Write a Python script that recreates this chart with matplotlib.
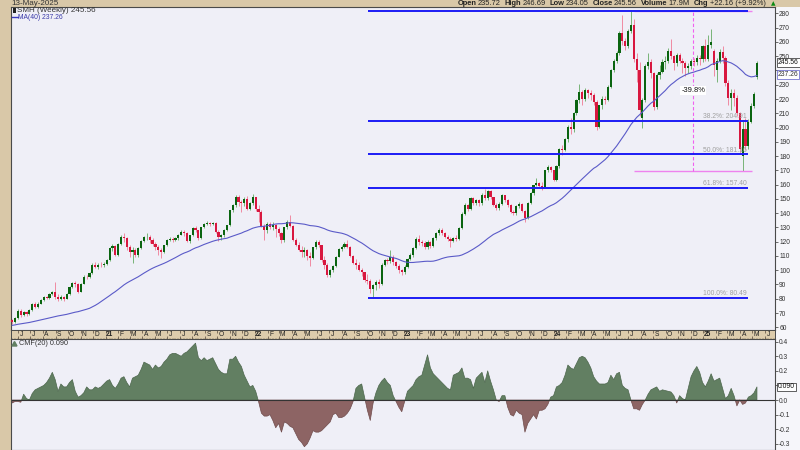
import matplotlib
matplotlib.use("Agg")
import matplotlib.pyplot as plt
import numpy as np
import pandas as pd
from matplotlib.patches import Rectangle
from matplotlib.transforms import blended_transform_factory

plt.rcParams['font.family'] = ['Liberation Sans', 'DejaVu Sans']

# weekly SMH candles, first week starting 2020-05-18
first_week = "2020-05-18"
opens = [
    65.0, 63.5, 66.5, 71.5, 68.5, 70.5, 69.0, 72.0, 76.0, 74.5,
    76.5, 79.0, 81.0, 80.5, 83.0, 84.5, 81.0, 80.0, 81.0, 80.0,
    83.0, 88.5, 91.0, 90.0, 85.0, 90.5, 95.5, 95.0, 98.0, 104.0,
    102.5, 104.0, 103.5, 104.5, 107.0, 115.5, 117.0, 110.5, 118.5, 123.5,
    122.5, 116.5, 113.0, 114.0, 110.5, 115.5, 120.5, 123.0, 123.5, 121.5,
    118.5, 116.5, 114.0, 113.0, 117.5, 121.5, 122.0, 121.5, 122.5, 125.0,
    127.0, 126.0, 120.5, 124.5, 129.5, 128.0, 122.5, 130.0, 132.5, 133.0,
    132.5, 133.0, 127.0, 123.0, 124.5, 128.5, 131.5, 142.0, 145.5, 151.5,
    148.0, 147.0, 150.0, 143.0, 147.0, 151.0, 143.0, 141.0, 131.0, 128.5,
    132.5, 130.5, 131.5, 129.0, 126.0, 121.0, 130.0, 134.0, 131.0, 121.5,
    118.0, 114.5, 113.0, 114.0, 110.0, 108.5, 116.0, 120.0, 117.5, 107.0,
    104.0, 96.5, 100.0, 103.0, 109.5, 115.0, 116.5, 118.5, 116.5, 110.0,
    105.0, 104.0, 100.5, 98.5, 93.0, 92.5, 87.0, 89.5, 91.5, 90.0,
    104.0, 107.0, 106.5, 109.0, 105.5, 103.0, 100.0, 99.0, 102.5, 108.0,
    110.5, 115.5, 122.0, 119.5, 119.0, 116.0, 120.0, 117.0, 122.5, 126.0,
    128.5, 126.0, 123.5, 122.0, 120.5, 122.5, 122.0, 129.5, 139.5, 145.5,
    143.0, 150.5, 147.0, 149.0, 147.0, 153.0, 150.5, 155.5, 151.0, 146.0,
    143.5, 146.5, 152.5, 149.0, 146.0, 141.0, 140.0, 145.0, 146.5, 141.5,
    136.5, 147.0, 154.0, 159.5, 161.0, 159.0, 158.5, 170.0, 172.5, 170.0,
    163.5, 173.0, 185.0, 184.5, 192.0, 200.5, 199.0, 210.0, 219.0, 225.0,
    220.0, 226.0, 224.0, 222.5, 218.0, 200.5, 215.5, 220.0, 219.5, 228.5,
    240.0, 246.5, 252.0, 266.0, 261.0, 257.0, 268.0, 272.0, 248.0, 240.0,
    207.0, 219.5, 243.0, 246.0, 238.0, 214.5, 237.0, 239.0, 246.0, 246.5,
    254.0, 250.0, 245.0, 251.0, 247.0, 245.0, 242.0, 243.0, 246.5, 246.0,
    249.0, 248.0, 257.0, 248.0, 258.0, 254.0, 240.0, 247.0, 253.0, 249.0,
    231.0, 221.0, 224.0, 221.0, 210.0, 180.0, 199.0, 187.0, 204.0, 215.0,
    235.72]
highs = [
    66.0, 67.5, 72.5, 72.5, 71.5, 71.5, 72.8, 77.0, 77.5, 77.5,
    79.5, 81.8, 82.0, 83.8, 85.5, 92.0, 83.0, 82.5, 82.0, 83.8,
    89.0, 92.0, 92.5, 91.0, 91.0, 96.5, 97.0, 98.8, 105.0, 105.5,
    105.0, 105.5, 105.5, 108.0, 116.5, 118.5, 118.0, 119.0, 124.5, 126.0,
    123.5, 118.0, 116.0, 115.5, 116.5, 121.0, 124.0, 126.0, 125.0, 122.5,
    120.0, 118.0, 115.5, 118.0, 122.0, 123.5, 123.0, 123.5, 125.5, 128.0,
    128.5, 126.5, 125.0, 130.0, 131.0, 128.5, 130.5, 133.0, 134.5, 134.0,
    134.0, 133.5, 128.0, 125.5, 129.0, 132.0, 142.5, 146.5, 153.0, 153.0,
    149.0, 151.5, 152.0, 148.0, 153.5, 151.5, 146.0, 142.0, 132.5, 133.5,
    133.5, 134.0, 132.5, 130.0, 127.0, 130.5, 135.0, 138.5, 132.0, 122.5,
    119.5, 117.0, 116.5, 115.0, 113.0, 116.5, 121.0, 121.0, 118.0, 110.0,
    105.0, 101.0, 104.0, 110.0, 115.5, 117.5, 119.5, 121.0, 117.0, 111.0,
    108.0, 105.5, 101.5, 99.0, 97.5, 93.5, 90.5, 93.0, 93.5, 105.0,
    108.0, 108.5, 114.0, 110.5, 106.5, 104.5, 101.0, 103.5, 108.5, 112.0,
    116.0, 123.0, 124.5, 121.5, 120.5, 121.0, 120.5, 123.0, 126.5, 129.5,
    129.5, 127.0, 124.5, 123.0, 123.5, 125.0, 130.0, 140.5, 147.0, 146.5,
    151.5, 151.0, 150.0, 150.0, 154.0, 157.0, 156.5, 156.5, 151.5, 147.0,
    147.5, 153.5, 153.0, 150.0, 146.5, 142.5, 145.5, 148.0, 147.0, 142.0,
    147.5, 154.5, 160.0, 164.5, 162.0, 161.5, 170.5, 173.5, 173.0, 170.5,
    174.0, 186.0, 188.0, 193.0, 201.5, 207.0, 211.0, 220.0, 230.5, 226.0,
    227.5, 227.0, 226.0, 224.0, 219.0, 216.0, 222.0, 222.0, 229.5, 241.0,
    248.0, 254.0, 268.0, 279.0, 263.0, 269.0, 281.8, 276.0, 252.0, 246.0,
    221.0, 244.5, 252.0, 248.0, 239.0, 238.0, 244.0, 248.0, 250.0, 256.0,
    262.0, 251.0, 252.0, 252.5, 249.0, 247.0, 245.0, 248.0, 249.0, 251.0,
    251.0, 258.0, 262.0, 265.0, 269.0, 255.0, 249.0, 255.0, 257.0, 250.0,
    233.0, 227.0, 227.0, 223.0, 211.0, 205.0, 207.0, 206.0, 217.0, 225.0,
    246.69]
lows = [
    62.5, 63.0, 66.0, 67.5, 68.0, 68.0, 68.5, 71.5, 73.5, 73.5,
    76.0, 78.5, 79.5, 80.0, 82.5, 80.0, 78.5, 79.0, 78.5, 79.5,
    82.5, 87.5, 88.5, 84.0, 84.5, 90.0, 93.5, 94.5, 97.5, 101.5,
    101.0, 102.0, 102.5, 103.5, 106.5, 113.5, 110.0, 110.0, 118.0, 120.0,
    114.5, 109.0, 105.0, 109.0, 109.5, 115.0, 120.0, 121.5, 119.0, 117.0,
    114.0, 111.0, 108.5, 112.0, 117.0, 120.5, 120.0, 120.5, 121.5, 124.5,
    124.0, 119.5, 119.0, 124.0, 126.5, 121.0, 122.0, 129.5, 131.5, 131.0,
    131.5, 126.0, 120.5, 121.5, 123.5, 127.5, 131.0, 140.5, 144.5, 145.0,
    141.0, 145.0, 142.0, 142.0, 146.0, 141.5, 134.0, 130.0, 121.0, 126.0,
    129.0, 128.5, 123.0, 124.0, 119.0, 120.0, 129.0, 130.0, 120.5, 117.0,
    113.5, 109.0, 109.5, 107.5, 103.0, 108.0, 115.0, 116.0, 105.5, 101.0,
    95.5, 95.0, 98.5, 102.5, 109.0, 113.5, 115.5, 115.5, 109.5, 104.5,
    101.0, 99.5, 96.0, 92.0, 90.5, 84.0, 80.5, 86.0, 87.5, 89.5,
    103.0, 104.5, 105.0, 103.5, 101.5, 98.0, 97.0, 97.5, 101.5, 107.0,
    109.5, 115.0, 118.0, 117.0, 115.0, 115.0, 115.5, 116.5, 121.5, 125.0,
    125.0, 122.5, 120.5, 116.5, 119.5, 120.5, 121.5, 129.0, 138.5, 141.5,
    142.5, 146.0, 145.5, 145.0, 146.0, 149.0, 149.5, 150.0, 145.0, 142.0,
    142.5, 146.0, 148.0, 144.5, 140.0, 138.5, 139.0, 143.5, 140.5, 133.5,
    136.0, 146.5, 153.0, 159.0, 157.5, 156.0, 158.0, 169.0, 169.0, 162.5,
    162.5, 172.0, 181.0, 183.5, 190.0, 195.5, 197.0, 209.0, 217.0, 216.0,
    218.5, 221.0, 219.5, 216.0, 198.5, 199.5, 213.0, 216.5, 218.5, 227.5,
    239.0, 245.0, 251.0, 258.0, 254.5, 256.0, 266.0, 246.0, 232.0, 208.0,
    200.0, 218.0, 241.0, 235.0, 212.0, 213.0, 234.0, 238.0, 241.0, 245.0,
    248.0, 240.0, 243.0, 245.0, 238.5, 236.0, 238.5, 241.0, 243.0, 244.0,
    244.0, 246.0, 247.0, 247.0, 256.0, 236.0, 232.0, 245.0, 245.0, 229.0,
    216.0, 212.0, 215.0, 208.0, 182.0, 169.7, 184.0, 185.0, 203.0, 214.0,
    234.05]
closes = [
    63.5, 66.5, 71.5, 68.5, 70.5, 69.0, 72.0, 76.0, 74.5, 76.5,
    79.0, 81.0, 80.5, 83.0, 84.5, 81.0, 80.0, 81.0, 80.0, 83.0,
    88.5, 91.0, 90.0, 85.0, 90.5, 95.5, 95.0, 98.0, 104.0, 102.5,
    104.0, 103.5, 104.5, 107.0, 115.5, 117.0, 110.5, 118.5, 123.5, 122.5,
    116.5, 113.0, 114.0, 110.5, 115.5, 120.5, 123.0, 123.5, 121.5, 118.5,
    116.5, 114.0, 113.0, 117.5, 121.5, 122.0, 121.5, 122.5, 125.0, 127.0,
    126.0, 120.5, 124.5, 129.5, 128.0, 122.5, 130.0, 132.5, 133.0, 132.5,
    133.0, 127.0, 123.0, 124.5, 128.5, 131.5, 142.0, 145.5, 151.5, 148.0,
    147.0, 150.0, 143.0, 147.0, 151.0, 143.0, 141.0, 131.0, 128.5, 132.5,
    130.5, 131.5, 129.0, 126.0, 121.0, 130.0, 134.0, 131.0, 121.5, 118.0,
    114.5, 113.0, 114.0, 110.0, 108.5, 116.0, 120.0, 117.5, 107.0, 104.0,
    96.5, 100.0, 103.0, 109.5, 115.0, 116.5, 118.5, 116.5, 110.0, 105.0,
    104.0, 100.5, 98.5, 93.0, 92.5, 87.0, 89.5, 91.5, 90.0, 104.0,
    107.0, 106.5, 109.0, 105.5, 103.0, 100.0, 99.0, 102.5, 108.0, 110.5,
    115.5, 122.0, 119.5, 119.0, 116.0, 120.0, 117.0, 122.5, 126.0, 128.5,
    126.0, 123.5, 122.0, 120.5, 122.5, 122.0, 129.5, 139.5, 145.5, 143.0,
    150.5, 147.0, 149.0, 147.0, 153.0, 150.5, 155.5, 151.0, 146.0, 143.5,
    146.5, 152.5, 149.0, 146.0, 141.0, 140.0, 145.0, 146.5, 141.5, 136.5,
    147.0, 154.0, 159.5, 161.0, 159.0, 158.5, 170.0, 172.5, 170.0, 163.5,
    173.0, 185.0, 184.5, 192.0, 200.5, 199.0, 210.0, 219.0, 225.0, 220.0,
    226.0, 224.0, 222.5, 218.0, 200.5, 215.5, 220.0, 219.5, 228.5, 240.0,
    246.5, 252.0, 266.0, 261.0, 257.0, 268.0, 272.0, 248.0, 240.0, 212.0,
    219.5, 243.0, 246.0, 238.0, 214.5, 237.0, 239.0, 246.0, 246.5, 254.0,
    250.0, 245.0, 251.0, 247.0, 245.0, 242.0, 243.0, 246.5, 246.0, 249.0,
    248.0, 257.0, 248.0, 258.0, 260.0, 244.0, 247.0, 253.0, 249.0, 231.0,
    221.0, 224.0, 221.0, 210.0, 185.0, 199.0, 187.0, 204.0, 215.0, 223.4,
    245.56]
# 39 weekly closes before the first candle (Aug 2019 - May 2020), only feed the MA(40)
warmup_closes = [
    54, 54, 56, 58, 58, 57, 57, 58, 59, 60,
    62, 63, 64, 63, 64, 63, 65, 67, 68, 68,
    69, 71, 71, 68, 71, 73, 72, 62, 62, 55,
    48, 52, 51, 56, 58, 57, 58, 60, 59]
cmf = [
    -0.02, -0.01, -0.01, -0.015, 0.04, 0.01, 0.0, 0.045, 0.07, 0.08,
    0.09, 0.10, 0.12, 0.15, 0.19, 0.14, 0.06, 0.11, 0.09, 0.09,
    0.12, 0.14, 0.06, 0.02, 0.03, 0.05, 0.09, 0.07, 0.07, 0.09,
    0.08, 0.09, 0.11, 0.13, 0.14, 0.10, 0.08, 0.11, 0.15, 0.16,
    0.12, 0.09, 0.15, 0.16, 0.17, 0.21, 0.26, 0.25, 0.24, 0.21,
    0.24, 0.22, 0.23, 0.26, 0.28, 0.31, 0.32, 0.32, 0.31, 0.30,
    0.32, 0.33, 0.35, 0.37, 0.39, 0.29, 0.27, 0.29, 0.27, 0.28,
    0.29, 0.25, 0.21, 0.19, 0.18, 0.18, 0.28, 0.28, 0.30, 0.26,
    0.23, 0.17, 0.13, 0.09, 0.10, 0.06, -0.01, -0.09, -0.11, -0.11,
    -0.10, -0.14, -0.19, -0.16, -0.22, -0.15, -0.16, -0.18, -0.19, -0.23,
    -0.27, -0.29, -0.32, -0.30, -0.26, -0.21, -0.22, -0.22, -0.21, -0.19,
    -0.17, -0.15, -0.10, -0.09, -0.12, -0.12, -0.11, -0.09, -0.06, -0.01,
    0.08, 0.10, 0.11, 0.02, -0.07, -0.14, -0.02, 0.05, 0.10, 0.13,
    0.15, 0.12, 0.10, 0.03, -0.01, -0.05, -0.08, -0.01, 0.06, 0.08,
    0.10, 0.14, 0.16, 0.17, 0.24, 0.31, 0.22, 0.18, 0.16, 0.14,
    0.12, 0.10, 0.08, 0.07, 0.17, 0.18, 0.19, 0.22, 0.15, 0.15,
    0.14, 0.08, 0.15, 0.17, 0.19, 0.12, 0.20, 0.13, 0.07, 0.00,
    -0.01, 0.03, 0.03, -0.05, -0.10, -0.11, -0.07, -0.09, -0.10, -0.22,
    -0.16, -0.13, -0.10, -0.13, -0.07, -0.07, -0.06, -0.03, 0.02, 0.03,
    0.09, 0.10, 0.12, 0.17, 0.24, 0.22, 0.21, 0.25, 0.29, 0.30,
    0.29, 0.26, 0.22, 0.16, 0.13, 0.11, 0.11, 0.11, 0.12, 0.17,
    0.14, 0.18, 0.19, 0.10, 0.08, 0.07, 0.00, -0.06, -0.06, -0.07,
    -0.03, 0.00, 0.04, 0.07, 0.08, 0.09, 0.06, 0.07, 0.065, 0.06,
    0.055, 0.03, -0.02, 0.03, 0.01, 0.00, 0.08, 0.16, 0.20, 0.23,
    0.19, 0.12, 0.09, 0.13, 0.18, 0.13, 0.14, 0.15, 0.08, 0.01,
    0.03, 0.08, 0.03, -0.04, 0.00, -0.03, -0.02, 0.02, 0.03, 0.05,
    0.09]

price_ticks = list(range(60, 290, 10))
cmf_ticks = [-0.3, -0.2, -0.1, 0.0, 0.1, 0.2, 0.3, 0.4]
fib_low, fib_high = 80.49, 281.83
fib_ratios = [0.0, 0.382, 0.5, 0.618, 1.0]
fib_labels = ["", "38.2%: 204.91", "50.0%: 181.16", "61.8%: 157.40", "100.0%: 80.49"]
fib_dates = ("2022-10-05", "2025-04-20")
drop_low = 169.66
drop_dates = ("2024-07-16", "2025-04-30")
ma_last = 237.26
volume_txt = "17.9M"
chart_date = "13-May-2025"

W, H = 800, 450
start = pd.Timestamp(first_week)


def wk(d):
    return (pd.Timestamp(d) - start).days / 7.0


def fx(px):
    return px / W


def fy(py):
    return 1 - py / H


TAN = '#d9c8a8'
PANEL = '#efeff7'
EDGE = '#4a4a4a'
XLIM = (-0.6, 266.3)

fig = plt.figure(figsize=(8, 4.5), dpi=100, facecolor=TAN)
fig.patches.append(Rectangle((fx(775), 0), 1 - fx(775), fy(7.3), transform=fig.transFigure,
                             facecolor='#f6f6fa', edgecolor='none', zorder=-5))

left, right = fx(10.5), fx(775)
ax = fig.add_axes([left, fy(330), right - left, fy(7.3) - fy(330)], facecolor=PANEL)
band = fig.add_axes([left, fy(339), right - left, fy(330) - fy(339)], facecolor='#ddccac')
cax = fig.add_axes([left, 0, right - left, fy(339)], facecolor=PANEL)

x = np.arange(len(closes))
o, h, l, c = (np.array(v, dtype=float) for v in (opens, highs, lows, closes))
up = c >= o

# candles
ax.vlines(x, l, h, colors=np.where(up, '#78b478', '#f08aa2'), lw=0.7, zorder=2)
ax.bar(x, np.maximum(np.abs(c - o), 0.5), bottom=np.minimum(o, c), width=0.75,
       color=np.where(up, '#0a6410', '#d8173f'), lw=0, zorder=3)

# MA(40)
ma = pd.Series(np.r_[warmup_closes, closes]).rolling(40).mean().to_numpy()[len(warmup_closes):]
ax.plot(x, ma, color='#5a5ac8', lw=0.8, zorder=4)

# fibonacci retracement
f0, f1 = wk(fib_dates[0]), wk(fib_dates[1])
for r, lab in zip(fib_ratios, fib_labels):
    lvl = fib_high - r * (fib_high - fib_low)
    ax.hlines(lvl, f0, f1, color='#1c1cf5', lw=1.4, zorder=6)
    if lab:
        ax.text(f1 - 0.3, lvl + 0.6, lab, ha='right', va='bottom', fontsize=4.9,
                color='#a0a0a0', zorder=7)

# drawdown measurement
m0, m1 = wk(drop_dates[0]), wk(drop_dates[1])
mid = (m0 + m1) / 2
ax.hlines([fib_high, drop_low], m0, m1, color='#ee82ee', lw=1.0, zorder=5)
ax.vlines(mid, drop_low, fib_high, colors='#f060f0', lw=0.8, linestyles=(0, (3, 2)), zorder=5)
ax.text(mid, (fib_high + drop_low) / 2, f"{(drop_low / fib_high - 1) * 100:.1f}%",
        ha='center', va='center', fontsize=5.4, color='#111', zorder=8,
        bbox=dict(fc='white', ec='none', pad=0.8))

ax.set_xlim(*XLIM)
ax.set_ylim(58.1, 284.3)
ax.set_xticks([])
ax.set_yticks(price_ticks)
# the tick label hidden behind the MA value box is left blank
ax.set_yticklabels(["" if abs(t - ma_last) < 4 else str(t) for t in price_ticks])
ax.yaxis.tick_right()
ax.tick_params(axis='y', length=2, width=0.5, pad=1, labelsize=4.8, colors='#333')
for s in ax.spines.values():
    s.set_color(EDGE)
    s.set_linewidth(0.8)

tr = blended_transform_factory(ax.transAxes, ax.transData)
ax.text(1.004, c[-1], f"{c[-1]:.2f}", transform=tr, ha='left', va='center', fontsize=4.9,
        color='#111', zorder=10, clip_on=False,
        bbox=dict(fc='white', ec='#222', lw=0.5, pad=0.6))
ax.text(1.004, ma_last, f"{ma_last:.2f}", transform=tr, ha='left', va='center', fontsize=4.9,
        color='#333', zorder=10, clip_on=False,
        bbox=dict(fc='white', ec='#5a5ac8', lw=0.5, pad=0.6))

# legend text
fig.patches.append(Rectangle((fx(12.5), fy(12.8)), fx(3), 4.5 / H, transform=fig.transFigure,
                             facecolor='#222', edgecolor='none', zorder=5))
fig.text(fx(17), fy(10.8), f"SMH (Weekly) {c[-1]:.2f}", fontsize=5.8, color='#333', va='center')
fig.add_artist(plt.Line2D([fx(12), fx(18)], [fy(17.4)] * 2, color='#3a3ac0', lw=1.0,
                          transform=fig.transFigure))
fig.text(fx(18.5), fy(17.4), f"MA(40) {ma_last:.2f}", fontsize=4.9, color='#3a3aa8', va='center')

# date ruler
months = pd.date_range("2020-06-01", "2025-06-01", freq="MS")
mpos = np.array([wk(d) for d in months])
band.set_xlim(*XLIM)
band.set_ylim(0, 1)
band.set_xticks([])
band.set_yticks([])
for s in band.spines.values():
    s.set_color(EDGE)
    s.set_linewidth(0.7)
weeks = np.arange(0, 267)
band.vlines(weeks, 0, 0.16, color='#7a6a50', lw=0.35)
band.vlines(weeks, 0.84, 1, color='#7a6a50', lw=0.35)
band.vlines(mpos, 0, 0.3, color='#55473a', lw=0.5)
band.vlines(mpos, 0.7, 1, color='#55473a', lw=0.5)
for p, d in zip(mpos, months):
    lab = f"{d.year % 100:02d}" if d.month == 1 else "JFMAMJJASOND"[d.month - 1]
    band.text(p + 1.3, 0.45, lab, ha='center', va='center', fontsize=4.8, color='#222',
              weight='bold' if d.month == 1 else 'normal')

# CMF panel
cv = np.array(cmf)
cax.fill_between(x, cv, 0, where=cv >= 0, interpolate=True, facecolor='#627f62',
                 edgecolor='#4c664c', lw=0.5)
cax.fill_between(x, cv, 0, where=cv <= 0, interpolate=True, facecolor='#8d6464',
                 edgecolor='#6f4b4b', lw=0.5)
cax.axhline(0, color='#333', lw=0.8)
cax.set_xlim(*XLIM)
cax.set_ylim(-0.3425, 0.4185)
cax.set_xticks([])
cax.set_yticks(cmf_ticks)
cax.set_yticklabels(["" if abs(v - cv[-1]) < 0.03 else f"{v:.1f}" for v in cmf_ticks])
cax.yaxis.tick_right()
cax.tick_params(axis='y', length=2, width=0.5, pad=1, labelsize=4.8, colors='#333')
for s in cax.spines.values():
    s.set_color(EDGE)
    s.set_linewidth(0.8)
trc = blended_transform_factory(cax.transAxes, cax.transData)
cax.text(1.004, cv[-1], f"{cv[-1]:.3f}", transform=trc, ha='left', va='center', fontsize=4.9,
         color='#111', zorder=10, clip_on=False,
         bbox=dict(fc='white', ec='#222', lw=0.5, pad=0.6))
fig.text(fx(19), fy(343.5), f"CMF(20) {cv[-1]:.3f}", fontsize=5.2, color='#333', va='center')
fig.add_artist(plt.Polygon([[fx(12), fy(346)], [fx(14.5), fy(341.5)], [fx(17), fy(346)]],
                           closed=True, color='#627f62', transform=fig.transFigure))

# header: date on the left, quote line right-aligned against the arrow
fig.text(fx(11), fy(3.6), chart_date, fontsize=5.8, color='#333', va='center')
chg = c[-1] - c[-2]
pieces = [("Open", True, 1.2), (f"{o[-1]:.2f}", False, 4), ("High", True, 1.2),
          (f"{h[-1]:.2f}", False, 4), ("Low", True, 1.2), (f"{l[-1]:.2f}", False, 4),
          ("Close", True, 1.2), (f"{c[-1]:.2f}", False, 4), ("Volume", True, 1.2),
          (volume_txt, False, 4), ("Chg", True, 1.2),
          (f"{chg:+.2f} ({chg / c[-2] * 100:+.2f}%)", False, 2.5)]
renderer = fig.canvas.get_renderer()
px = 768
fig.text(fx(px + 2.5), fy(3.6), "▲", fontsize=4.2, color='#0b8b12', va='center',
         family=['DejaVu Sans'])
for txt, bold, gap in reversed(pieces):
    px -= gap
    t = fig.text(fx(px), fy(3.6), txt, fontsize=5.4, color='#222', va='center', ha='right',
                 weight='bold' if bold else 'normal')
    px = t.get_window_extent(renderer).x0

fig.savefig("out.png", dpi=100, facecolor=fig.get_facecolor())
